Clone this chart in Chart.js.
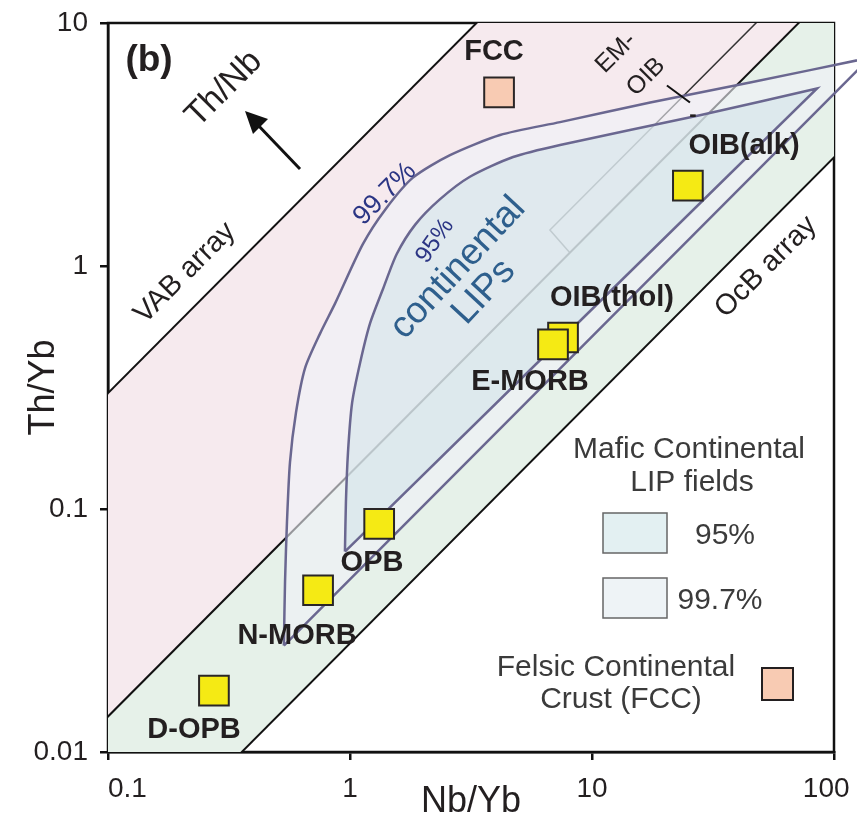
<!DOCTYPE html>
<html>
<head>
<meta charset="utf-8">
<title>Th/Yb vs Nb/Yb</title>
<script src="https://cdn.jsdelivr.net/npm/chart.js@4.4.1/dist/chart.umd.min.js"></script>
<style>
  html, body { margin: 0; padding: 0; background: #fff; }
  #chart { display: block; }
</style>
</head>
<body>
<canvas id="chart" width="857" height="829"></canvas>
<script>
const FONT = "'Liberation Sans', Arial, Helvetica, sans-serif";
Chart.defaults.font.family = FONT;

/* axis ticks */
const nbYbTicks = [0.1, 1, 10, 100];
const thYbTicks = [0.01, 0.1, 1, 10];

/* Th/Nb of the array boundaries */
const vabTopThNb = 3.0;
const morbTopThNb = 0.14;
const morbBaseThNb = 0.028;
const emoibTopThNb = 0.21;
const emoibCapNbYb = [6.7, 8.1];
const emoibTickNbYb = [20.4, 25.4];
const emoibTickThYb = [5.53, 4.71];

/* average compositions (E-MORB after OIB(thol) so it sits in front) */
const sampleNames = ['D-OPB', 'N-MORB', 'OPB', 'OIB(thol)', 'E-MORB', 'OIB(alk)'];
const sampleNbYb = [0.274, 0.738, 1.32, 7.59, 6.90, 24.9];
const sampleThYb = [0.0179, 0.0463, 0.0868, 0.508, 0.476, 2.14];
const fccNbYb = [4.13];
const fccThYb = [5.18];

/* mafic continental LIP fields, traced round the outline (tip given twice to keep it sharp) */
const lip997NbYb = [0.533, 0.539, 0.549, 0.565, 0.598, 0.652, 0.752, 0.867, 1.13, 1.40, 1.82, 2.59, 4.17, 7.38, 17.4, 45.0, 141, 141, 0.533];
const lip997ThYb = [0.0274, 0.0504, 0.0885, 0.156, 0.249, 0.380, 0.527, 0.700, 1.23, 1.71, 2.31, 2.86, 3.46, 3.91, 4.71, 5.69, 7.20, 7.20, 0.0274];
const lip95NbYb = [0.953, 0.962, 0.981, 1.02, 1.10, 1.21, 1.37, 1.56, 1.86, 2.35, 3.13, 4.72, 7.38, 27.9, 85.1, 85.1, 0.953];
const lip95ThYb = [0.0668, 0.107, 0.171, 0.273, 0.398, 0.580, 0.806, 1.12, 1.48, 1.88, 2.33, 2.81, 3.15, 4.17, 5.38, 5.38, 0.0668];

const pts = (xs, ys) => xs.map((x, i) => ({x: x, y: ys[i]}));
const farNbYb = [0.01, 1000];
const ratioLine = (r, xs) => xs.map(x => ({x: x, y: x * r}));
const back = (a) => a.slice().reverse();

const vabField = ratioLine(vabTopThNb, farNbYb).concat(back(ratioLine(morbTopThNb, farNbYb)));
const morbField = ratioLine(morbTopThNb, farNbYb).concat(back(ratioLine(morbBaseThNb, farNbYb)));
const emoibField = ratioLine(emoibTopThNb, [emoibCapNbYb[0], farNbYb[1]])
  .concat(ratioLine(morbTopThNb, [farNbYb[1], emoibCapNbYb[1]]));
const emoibEdge = back(ratioLine(emoibTopThNb, [emoibCapNbYb[0], farNbYb[1]]))
  .concat(ratioLine(morbTopThNb, [emoibCapNbYb[1]]));

const area = (data, colour) => ({
  data: data, showLine: true, fill: 'shape', backgroundColor: colour,
  borderWidth: 0, pointRadius: 0, order: 30, clip: -1
});
const rule = (data, width, colour) => ({
  data: data, showLine: true, fill: false, borderColor: colour,
  borderWidth: width, pointRadius: 0, order: 20
});
const lipField = (data, fillColour, order) => ({
  data: data, showLine: true, fill: 'shape', backgroundColor: fillColour,
  borderColor: '#6a6790', borderWidth: 2.5, tension: 0.25, pointRadius: 0,
  order: order, clip: {left: 0, top: 0, right: false, bottom: 0}
});

// scale boxes are sized by hand so the plot frame lands where the figure has it
const fixBox = (s, size) => {
  if (s.isHorizontal()) { s.height = size; } else { s.width = size; }
  s.paddingLeft = 0; s.paddingRight = 0; s.paddingTop = 0; s.paddingBottom = 0;
};

// the outer x labels sit a little inside their ticks
const xLabel = (v) => {
  if (v === 0.1) return '     0.1';
  if (v === 100) return '100  ';
  return String(v);
};

/* text on the plot: text, x, y, size, bold, colour, angle */
const notes = [
  ['(b)', 149, 61, 37, true, '#231f20', 0],
  ['Th/Nb', 224, 89, 34, false, '#231f20', -45],
  ['VAB array', 185, 273, 29, false, '#231f20', -45],
  ['OcB array', 766, 267, 29, false, '#231f20', -45],
  ['99.7%', 385, 194, 27, false, '#2b3584', -45],
  ['95%', 435, 241, 24, false, '#2b3584', -55],
  ['continental', 458, 268, 37, false, '#2e5f8d', -47],
  ['LIPs', 484, 292, 37, false, '#2e5f8d', -47],
  ['FCC', 494, 52, 29, true, '#231f20', 0],
  ['EM-', 616, 53, 25, false, '#231f20', -45],
  ['OIB', 646, 77, 25, false, '#231f20', -45],
  ['-', 693, 115, 22, true, '#231f20', 0],
  ['OIB(alk)', 744, 146, 29, true, '#231f20', 0],
  ['OIB(thol)', 612, 298, 29, true, '#231f20', 0],
  ['E-MORB', 530, 382, 29, true, '#231f20', 0],
  ['OPB', 372, 563, 29, true, '#231f20', 0],
  ['N-MORB', 297, 636, 29, true, '#231f20', 0],
  ['D-OPB', 194, 730, 29, true, '#231f20', 0],
  ['Mafic Continental', 689, 450, 30, false, '#3b3b3b', 0],
  ['LIP fields', 692, 483, 30, false, '#3b3b3b', 0],
  ['95%', 725, 536, 30, false, '#3b3b3b', 0],
  ['99.7%', 720, 601, 30, false, '#3b3b3b', 0],
  ['Felsic Continental', 616, 668, 30, false, '#3b3b3b', 0],
  ['Crust (FCC)', 621, 700, 30, false, '#3b3b3b', 0]
];

const decorations = {
  id: 'decorations',
  beforeDatasetsDraw(chart) {
    const {ctx, chartArea: a} = chart;
    ctx.save();
    ctx.strokeStyle = '#111';
    ctx.lineWidth = 2.5;
    ctx.strokeRect(a.left, a.top, a.right - a.left, a.bottom - a.top);
    ctx.restore();
  },
  afterDatasetsDraw(chart) {
    const ctx = chart.ctx;
    ctx.save();

    // Th/Nb arrow
    ctx.strokeStyle = '#111';
    ctx.fillStyle = '#111';
    ctx.lineWidth = 3;
    ctx.beginPath();
    ctx.moveTo(300, 169);
    ctx.lineTo(256, 123);
    ctx.stroke();
    ctx.beginPath();
    ctx.moveTo(245, 111);
    ctx.lineTo(268, 119);
    ctx.lineTo(253, 134);
    ctx.closePath();
    ctx.fill();

    // legend swatches
    ctx.lineWidth = 1.5;
    ctx.strokeStyle = '#666';
    ctx.fillStyle = '#e3f0f2';
    ctx.fillRect(603, 513, 64, 40);
    ctx.strokeRect(603, 513, 64, 40);
    ctx.fillStyle = '#eef3f6';
    ctx.fillRect(603, 578, 64, 40);
    ctx.strokeRect(603, 578, 64, 40);
    ctx.lineWidth = 2;
    ctx.strokeStyle = '#231f20';
    ctx.fillStyle = '#f8cbb3';
    ctx.fillRect(762, 668, 31, 32);
    ctx.strokeRect(762, 668, 31, 32);

    // labels
    ctx.textAlign = 'center';
    ctx.textBaseline = 'middle';
    notes.forEach(([t, x, y, size, bold, colour, angle]) => {
      ctx.save();
      ctx.translate(x, y);
      ctx.rotate(angle * Math.PI / 180);
      ctx.font = (bold ? 'bold ' : '') + size + 'px ' + FONT;
      ctx.fillStyle = colour;
      ctx.fillText(t, 0, 0);
      ctx.restore();
    });
    ctx.restore();
  }
};

const chart = new Chart(document.getElementById('chart'), {
  type: 'scatter',
  data: {
    datasets: [
      area(vabField, '#f6eaee'),
      area(morbField, '#e6f1e9'),
      area(emoibField, '#fdebdc'),
      rule(ratioLine(vabTopThNb, farNbYb), 2, '#111'),
      rule(ratioLine(morbTopThNb, farNbYb), 2, '#111'),
      rule(ratioLine(morbBaseThNb, farNbYb), 2, '#111'),
      rule(emoibEdge, 1.5, '#333'),
      lipField(pts(lip997NbYb, lip997ThYb), 'rgba(240, 242, 248, 0.6)', 12),
      lipField(pts(lip95NbYb, lip95ThYb), 'rgba(212, 228, 234, 0.6)', 11),
      Object.assign(rule(pts(emoibTickNbYb, emoibTickThYb), 2, '#111'), {order: 5}),
      {
        label: 'FCC', data: pts(fccNbYb, fccThYb), pointStyle: 'rect', pointRadius: 21,
        backgroundColor: '#f8cbb3', borderColor: '#2a2626', borderWidth: 2, order: 0
      },
      {
        label: 'averages', data: pts(sampleNbYb, sampleThYb), pointStyle: 'rect', pointRadius: 21,
        backgroundColor: '#f5ea14', borderColor: '#2a2626', borderWidth: 2, order: 0
      }
    ]
  },
  options: {
    responsive: false,
    animation: false,
    devicePixelRatio: 1,
    events: [],
    layout: { padding: { left: 0, right: 23, top: 17, bottom: 0 } },
    plugins: { legend: { display: false }, tooltip: { enabled: false } },
    scales: {
      x: {
        type: 'logarithmic', min: 0.1, max: 100,
        afterBuildTicks: (s) => { s.ticks = nbYbTicks.map(v => ({value: v})); },
        afterFit: (s) => fixBox(s, 77),
        ticks: {
          callback: xLabel,
          font: { size: 28 }, color: '#231f20', padding: 12, maxRotation: 0, autoSkip: false
        },
        grid: { drawOnChartArea: false, tickLength: 8, color: '#111', lineWidth: 2.5 },
        border: { color: '#111', width: 2.5 },
        title: { display: true, text: 'Nb/Yb', font: { size: 36 }, color: '#231f20', padding: { top: 0, bottom: 5 } }
      },
      y: {
        type: 'logarithmic', min: 0.01, max: 10,
        afterBuildTicks: (s) => { s.ticks = thYbTicks.map(v => ({value: v})); },
        afterFit: (s) => fixBox(s, 108),
        ticks: {
          callback: (v) => String(v),
          font: { size: 28 }, color: '#231f20', padding: 12, autoSkip: false
        },
        grid: { drawOnChartArea: false, tickLength: 8, color: '#111', lineWidth: 2.5 },
        border: { color: '#111', width: 2.5 },
        title: { display: true, text: 'Th/Yb', font: { size: 36 }, color: '#231f20', padding: { top: 22, bottom: 0 } }
      }
    }
  },
  plugins: [decorations]
});
</script>
</body>
</html>
